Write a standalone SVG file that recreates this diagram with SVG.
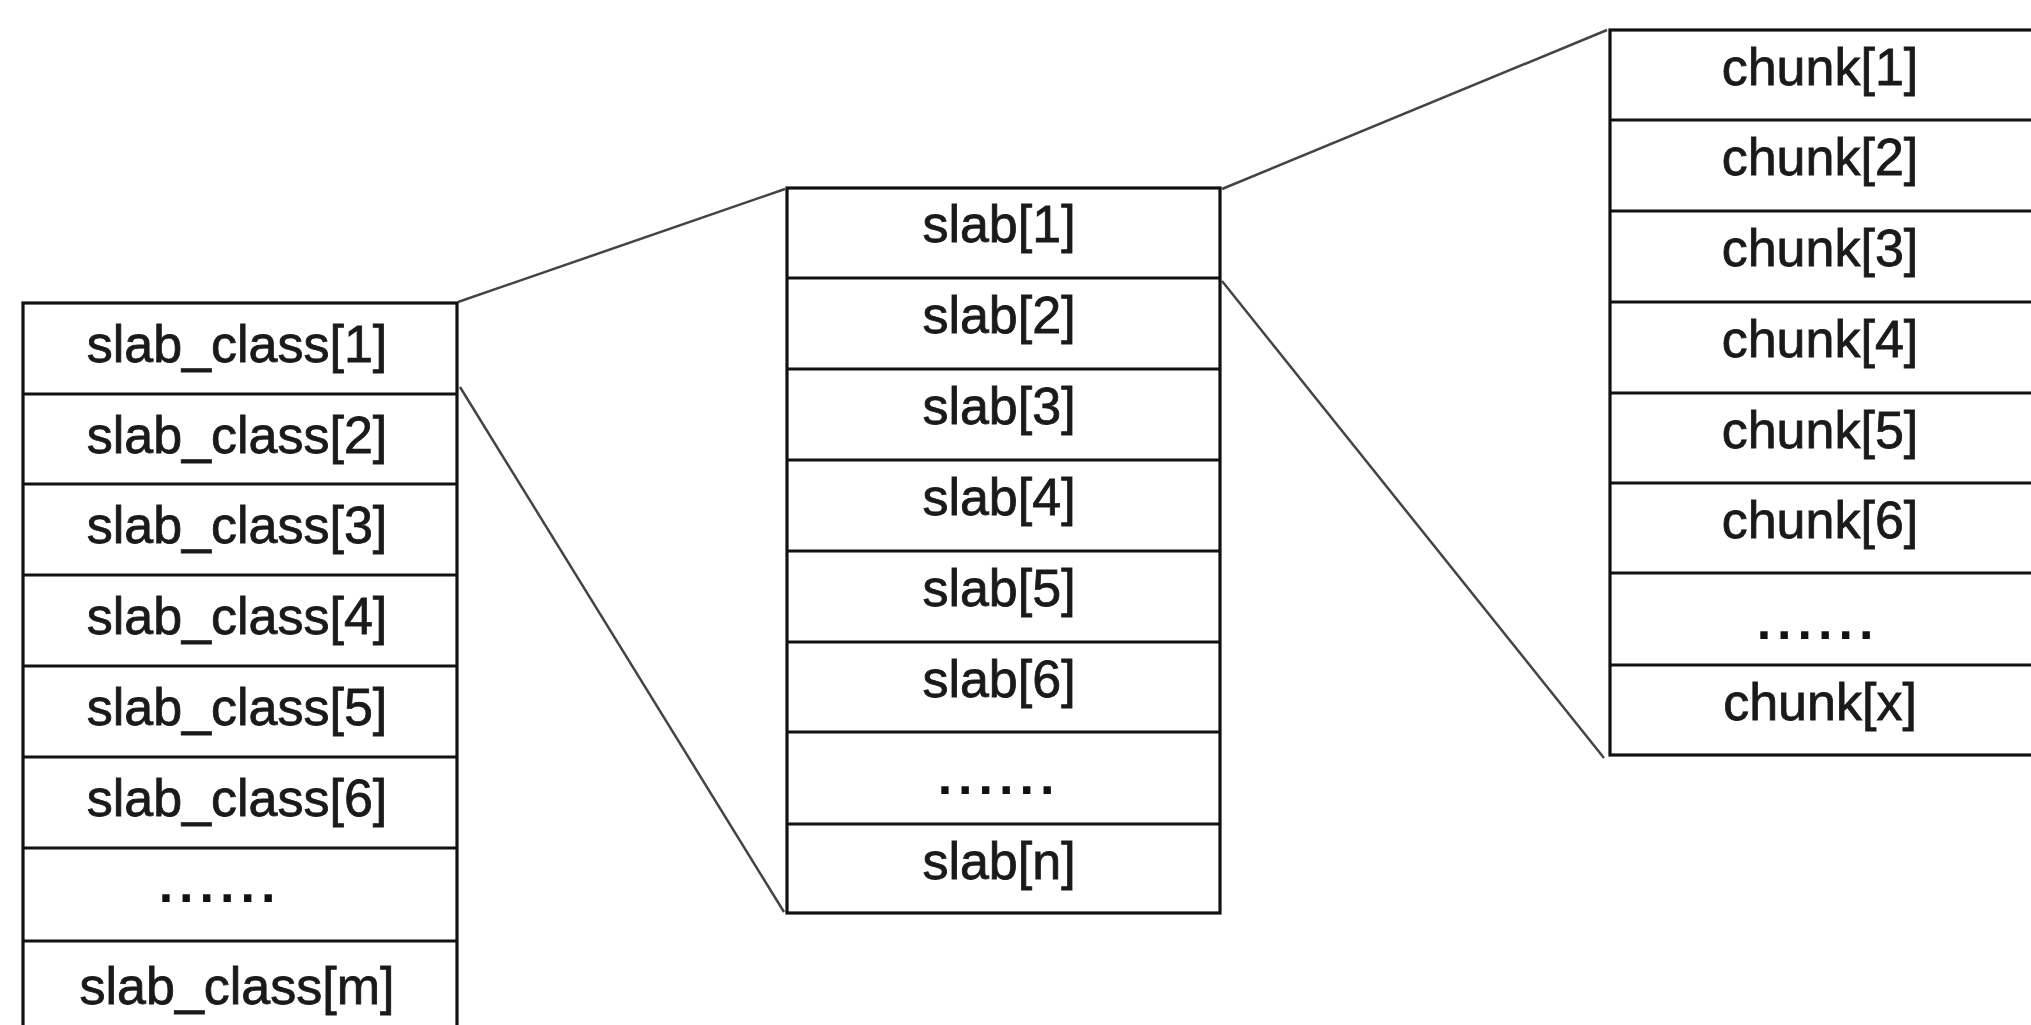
<svg xmlns="http://www.w3.org/2000/svg" width="2031" height="1025" viewBox="0 0 2031 1025">
<style>
.box{fill:#fff;stroke:#111;stroke-width:3.2}
.div{stroke:#111;stroke-width:3.2}
.lbl{font-family:"Liberation Sans",Arial,sans-serif;font-size:52px;fill:#1a1a1a;stroke:#1a1a1a;stroke-width:0.8;text-anchor:middle}
.dots{font-family:"Liberation Sans",Arial,sans-serif;font-size:52px;font-weight:bold;fill:#111;text-anchor:middle;letter-spacing:6px}
.conn{stroke:#444;stroke-width:2.5;fill:none}
</style>
<rect width="2031" height="1025" fill="#fff"/>
<g id="connectors">
<line class="conn" x1="458" y1="302" x2="785" y2="189"/>
<line class="conn" x1="460" y1="387" x2="784" y2="912"/>
<line class="conn" x1="1222" y1="189" x2="1607" y2="30"/>
<line class="conn" x1="1222" y1="281" x2="1604" y2="758"/>
</g>
<g id="slab_classes">
<rect class="box" x="23" y="303" width="434" height="740"/>
<line class="div" x1="23" y1="394" x2="457" y2="394"/>
<line class="div" x1="23" y1="484" x2="457" y2="484"/>
<line class="div" x1="23" y1="575" x2="457" y2="575"/>
<line class="div" x1="23" y1="666" x2="457" y2="666"/>
<line class="div" x1="23" y1="757" x2="457" y2="757"/>
<line class="div" x1="23" y1="848" x2="457" y2="848"/>
<line class="div" x1="23" y1="941" x2="457" y2="941"/>
<text class="lbl" x="237" y="362">slab_class[1]</text>
<text class="lbl" x="237" y="453">slab_class[2]</text>
<text class="lbl" x="237" y="543">slab_class[3]</text>
<text class="lbl" x="237" y="634">slab_class[4]</text>
<text class="lbl" x="237" y="725">slab_class[5]</text>
<text class="lbl" x="237" y="816">slab_class[6]</text>
<text class="dots" x="220" y="902">......</text>
<text class="lbl" x="237" y="1004">slab_class[m]</text>
</g>
<g id="slabs">
<rect class="box" x="787" y="188" width="433" height="725"/>
<line class="div" x1="787" y1="278" x2="1220" y2="278"/>
<line class="div" x1="787" y1="369" x2="1220" y2="369"/>
<line class="div" x1="787" y1="460" x2="1220" y2="460"/>
<line class="div" x1="787" y1="551" x2="1220" y2="551"/>
<line class="div" x1="787" y1="642" x2="1220" y2="642"/>
<line class="div" x1="787" y1="732" x2="1220" y2="732"/>
<line class="div" x1="787" y1="824" x2="1220" y2="824"/>
<text class="lbl" x="999" y="242">slab[1]</text>
<text class="lbl" x="999" y="333">slab[2]</text>
<text class="lbl" x="999" y="424">slab[3]</text>
<text class="lbl" x="999" y="515">slab[4]</text>
<text class="lbl" x="999" y="606">slab[5]</text>
<text class="lbl" x="999" y="697">slab[6]</text>
<text class="dots" x="999" y="794">......</text>
<text class="lbl" x="999" y="879">slab[n]</text>
</g>
<g id="chunks">
<rect class="box" x="1610" y="30" width="440" height="725"/>
<line class="div" x1="1610" y1="120" x2="2050" y2="120"/>
<line class="div" x1="1610" y1="211" x2="2050" y2="211"/>
<line class="div" x1="1610" y1="302" x2="2050" y2="302"/>
<line class="div" x1="1610" y1="393" x2="2050" y2="393"/>
<line class="div" x1="1610" y1="483" x2="2050" y2="483"/>
<line class="div" x1="1610" y1="573" x2="2050" y2="573"/>
<line class="div" x1="1610" y1="665" x2="2050" y2="665"/>
<text class="lbl" x="1820" y="85">chunk[1]</text>
<text class="lbl" x="1820" y="175">chunk[2]</text>
<text class="lbl" x="1820" y="266">chunk[3]</text>
<text class="lbl" x="1820" y="357">chunk[4]</text>
<text class="lbl" x="1820" y="448">chunk[5]</text>
<text class="lbl" x="1820" y="538">chunk[6]</text>
<text class="dots" x="1818" y="639">......</text>
<text class="lbl" x="1820" y="720">chunk[x]</text>
</g>
</svg>
